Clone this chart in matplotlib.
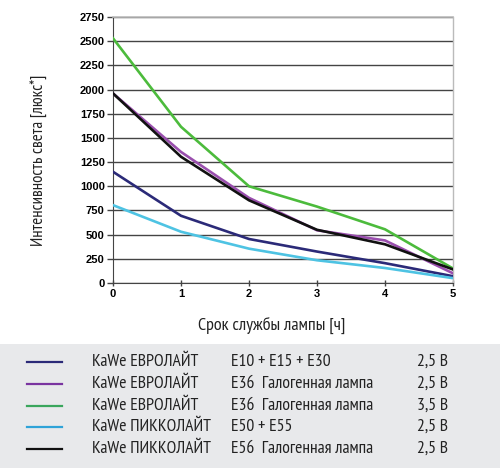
import matplotlib
matplotlib.use("Agg")
import matplotlib.pyplot as plt
from matplotlib.patches import Rectangle
from matplotlib.lines import Line2D

hours = [0, 1, 2, 3, 4, 5]
y_ticks = [0, 250, 500, 750, 1000, 1250, 1500, 1750, 2000, 2250, 2500, 2750]

euro_e10 = [1150, 695, 455, 325, 205, 70]
euro_e36_25 = [1960, 1355, 880, 545, 440, 100]
euro_e36_35 = [2530, 1615, 1000, 790, 555, 150]
picco_e50 = [805, 530, 355, 235, 155, 50]
picco_e56 = [1960, 1305, 855, 550, 400, 140]

series = [euro_e10, euro_e36_25, euro_e36_35, picco_e50, picco_e56]
colors = ["#2b2a78", "#9a4fae", "#4cbb3c", "#4ec3e3", "#111111"]
legend_colors = ["#2b2a78", "#7a34a0", "#3aa65c", "#2fa3d8", "#111111"]
col1 = ["KaWe ЕВРОЛАЙТ", "KaWe ЕВРОЛАЙТ", "KaWe ЕВРОЛАЙТ", "KaWe ПИККОЛАЙТ", "KaWe ПИККОЛАЙТ"]
col2 = ["E10 + E15 + E30", "E36  Галогенная лампа", "E36  Галогенная лампа", "E50 + E55", "E56  Галогенная лампа"]
col3 = ["2,5 В", "2,5 В", "3,5 В", "2,5 В", "2,5 В"]

narrow = ["PT Sans Narrow", "Roboto Condensed", "DejaVu Sans"]

fig = plt.figure(figsize=(5.0, 4.68), dpi=100)
W, H = 500, 468

# legend background
fig.patches.append(Rectangle((0, 0), 1, 1 - 344 / H, transform=fig.transFigure,
                             facecolor="#e8e9eb", edgecolor="none", zorder=0))

ax = fig.add_axes([113 / W, 1 - 283 / H, 340 / W, 266 / H])
for s, c in zip(series, colors):
    ax.plot(hours, s, color=c, lw=1.9, zorder=3)

ax.set_xlim(0, 5)
ax.set_ylim(0, 2750)
ax.set_yticks(y_ticks)
ax.set_xticks(hours)
ax.yaxis.grid(True, color="#444444", lw=1.0)
ax.set_axisbelow(True)
for lab in ax.get_xticklabels() + ax.get_yticklabels():
    lab.set_fontfamily("Liberation Sans")
    lab.set_fontweight("bold")
    lab.set_fontsize(8)
ax.tick_params(axis="y", length=4, width=1, color="#444444", pad=2)
ax.tick_params(axis="x", length=4, width=1, color="#444444", direction="inout", pad=2)
ax.spines["left"].set_color("#444444")
ax.spines["bottom"].set_color("#444444")
ax.spines["top"].set_color("#bbbbbb")
ax.spines["right"].set_color("#bbbbbb")
ax.spines["top"].set_linewidth(1.2)
ax.spines["right"].set_linewidth(1.0)

fs = 13
fig.text(272 / W, 1 - 325 / H, "Срок службы лампы [ч]", ha="center", va="center",
         fontsize=fs, family=narrow, color="#222222")
fig.text(39 / W, 1 - 160 / H, "Интенсивность света [люкс*]", ha="center", va="center",
         rotation=90, fontsize=12.2, family=narrow, color="#222222")

rows_y = [362, 384, 406, 427, 449]
for yy, lc, a, b, c in zip(rows_y, legend_colors, col1, col2, col3):
    fy = 1 - yy / H
    fig.add_artist(Line2D([27 / W, 62 / W], [fy, fy], color=lc, lw=1.6,
                          transform=fig.transFigure))
    fig.text(92 / W, fy, a, ha="left", va="center", fontsize=12.7, family=narrow, color="#222222")
    fig.text(231 / W, fy, b, ha="left", va="center", fontsize=12.7, family=narrow, color="#222222")
    fig.text(417 / W, fy, c, ha="left", va="center", fontsize=12.7, family=narrow, color="#222222")

fig.savefig("out.png", dpi=100)
